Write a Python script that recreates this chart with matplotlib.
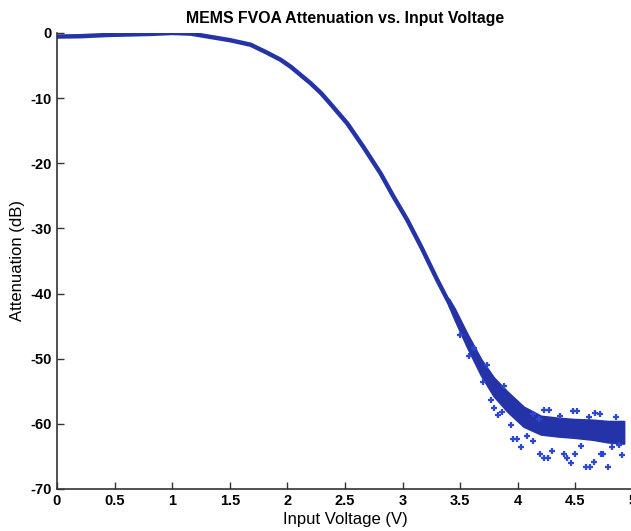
import numpy as np
import matplotlib
matplotlib.use("Agg")
import matplotlib.pyplot as plt

plt.rcParams['font.family'] = ['Liberation Sans', 'DejaVu Sans']
plt.rcParams['axes.unicode_minus'] = False

# main curve (V, dB)
volt = [0.0, 0.2, 0.45, 0.8, 1.0, 1.16, 1.33, 1.5, 1.68, 1.82, 1.94, 2.03, 2.2, 2.29,
        2.37, 2.52, 2.66, 2.81, 2.92, 3.04, 3.16, 3.30, 3.42]
atten = [-0.55, -0.5, -0.3, -0.15, 0.0, -0.1, -0.6, -1.1, -1.8, -3.0, -4.1, -5.2, -7.7, -9.2,
         -10.8, -13.9, -17.5, -21.6, -25.1, -28.7, -32.8, -37.9, -42.0]

# noisy tail band: upper and lower edges (V, dB)
band_v = [3.40, 3.45, 3.56, 3.68, 3.79, 3.91, 4.05, 4.2, 4.35, 4.49, 4.65, 4.78, 4.92]
band_hi = [-40.8, -42.3, -46.2, -50.1, -52.9, -55.1, -57.4, -58.8, -59.1, -59.3, -59.4, -59.6, -59.6]
band_lo = [-41.8, -43.9, -48.2, -52.5, -55.7, -58.1, -60.4, -61.6, -61.9, -62.1, -62.4, -62.8, -63.0]

# scattered outlier points (V, dB)
out_v = [3.77, 3.79, 3.83, 3.94, 3.96, 3.99, 4.03, 4.13, 4.19, 4.23, 4.26, 4.30,
         4.23, 4.27, 4.37, 4.40, 4.43, 4.46, 4.48, 4.51, 4.50, 4.59, 4.63, 4.66,
         4.67, 4.71, 4.72, 4.74, 4.78, 4.85, 4.90, 4.13, 4.18, 3.70, 3.86, 4.08,
         3.50, 3.58, 3.62, 3.73, 3.88, 4.55, 4.82, 4.88, 4.62]
out_db = [-56.3, -57.5, -58.7, -60.1, -62.3, -62.3, -63.5, -62.6, -64.7, -65.2, -65.2, -64.2,
          -57.9, -57.9, -58.8, -64.7, -65.3, -66.0, -58.0, -58.0, -64.7, -66.6, -66.6, -65.9,
          -58.3, -58.5, -64.7, -64.7, -66.6, -58.9, -64.8, -58.5, -59.2, -53.6, -58.2, -61.9,
          -46.3, -49.6, -48.4, -51.0, -54.2, -63.4, -63.6, -63.2, -59.0]

blue = '#2433a8'

fig = plt.figure(figsize=(6.31, 5.31), dpi=100)
ax = fig.add_axes([0.0903, 0.0791, 0.913, 0.8588])

ax.plot(volt, atten, color=blue, lw=3.2, solid_capstyle='round')
ax.fill_between(band_v, band_lo, band_hi, color=blue, lw=1.5, edgecolor=blue)
ax.plot(out_v, out_db, '+', color='#2d48d4', ms=4, mew=1.6)

ax.set_xlim(0, 5)
ax.set_ylim(-70, 0)
ax.set_xticks(np.arange(0, 5.01, 0.5))
ax.set_xticklabels(['0', '0.5', '1', '1.5', '2', '2.5', '3', '3.5', '4', '4.5', '5'])
ax.set_yticks(np.arange(-70, 1, 10))
for s in ['top', 'right']:
    ax.spines[s].set_visible(False)
for s in ['left', 'bottom']:
    ax.spines[s].set_color('#333333')
    ax.spines[s].set_linewidth(1.2)
ax.tick_params(direction='in', length=5, width=1, colors='#333333', labelcolor='black', labelsize=10.5)
for lab in ax.get_xticklabels() + ax.get_yticklabels():
    lab.set_fontweight('bold')

ax.set_title('MEMS FVOA Attenuation vs. Input Voltage', fontsize=11.4, fontweight='bold', pad=7)
ax.set_xlabel('Input Voltage (V)', fontsize=12, labelpad=3)
ax.set_ylabel('Attenuation (dB)', fontsize=12, labelpad=4)

fig.savefig('out.png', dpi=100)
